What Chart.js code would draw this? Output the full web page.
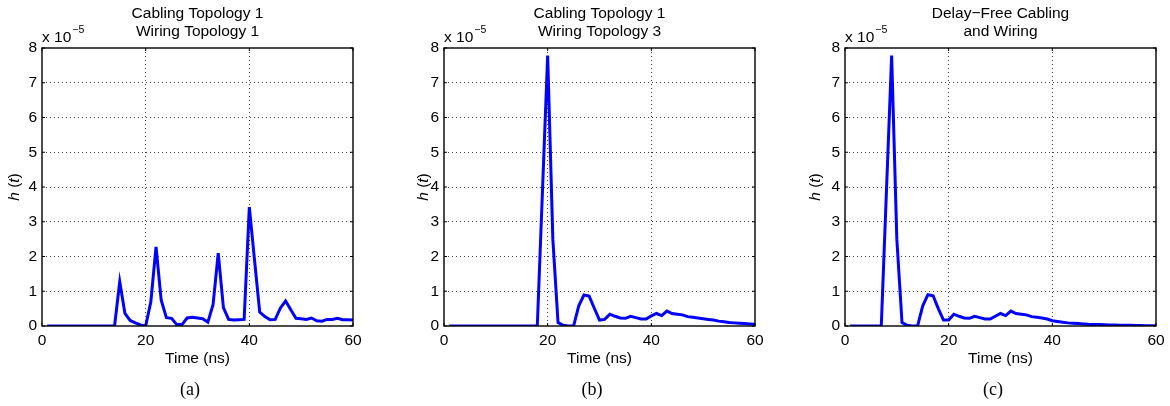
<!DOCTYPE html>
<html><head><meta charset="utf-8">
<script src="https://cdn.jsdelivr.net/npm/chart.js@4.4.1/dist/chart.umd.min.js"></script>
<style>
html,body{margin:0;padding:0;background:#fff;width:1170px;height:406px;overflow:hidden;position:relative}
.p{position:absolute;top:0;width:367px;height:406px}
</style></head><body>
<div class="p" style="left:0px"><canvas id="ca"></canvas></div>
<div class="p" style="left:402px"><canvas id="cb"></canvas></div>
<div class="p" style="left:803px"><canvas id="cc"></canvas></div>
<script>
// ---- data (h(t) in units of 1e-5) ----
const timeNs = [1,2,3,4,5,6,7,8,9,10,11,12,13,14,15,16,17,18,19,20,21,22,23,24,25,26,27,28,29,30,
  31,32,33,34,35,36,37,38,39,40,41,42,43,44,45,46,47,48,49,50,51,52,53,54,55,56,57,58,59,60];
const hA = [0,0,0,0,0,0,0,0,0,0,
  0,0,0,0,1.27,0.36,0.16,0.09,0.03,0,
  0.7,2.28,0.74,0.24,0.22,0.04,0.04,0.23,0.25,0.23,
  0.21,0.11,0.61,2.1,0.53,0.19,0.17,0.18,0.19,3.42,
  1.9,0.4,0.27,0.18,0.19,0.52,0.72,0.47,0.22,0.21,
  0.19,0.23,0.15,0.14,0.19,0.19,0.22,0.18,0.18,0.17];
const hB = [0,0,0,0,0,0,0,0,0,0,
  0,0,0,0,0,0,0,0,3.9,7.78,
  2.5,0.1,0.02,0,0,0.58,0.89,0.86,0.51,0.17,
  0.19,0.34,0.28,0.23,0.22,0.28,0.24,0.2,0.2,0.29,
  0.36,0.3,0.43,0.36,0.34,0.32,0.27,0.25,0.23,0.21,
  0.19,0.17,0.14,0.12,0.1,0.09,0.08,0.07,0.06,0.05];
const hC = [0,0,0,0,0,0,0,3.9,7.78,2.5,
  0.1,0.02,0,0,0.58,0.9,0.87,0.5,0.17,0.17,
  0.34,0.28,0.23,0.22,0.28,0.24,0.2,0.2,0.28,0.36,
  0.3,0.43,0.36,0.34,0.32,0.27,0.25,0.23,0.2,0.15,
  0.13,0.11,0.09,0.08,0.07,0.06,0.05,0.045,0.04,0.035,
  0.03,0.03,0.025,0.02,0.02,0.015,0.015,0.01,0.01,0.01];
const xTicks = [0,20,40,60];
const yTicks = [0,1,2,3,4,5,6,7,8];
const titleA = ['Cabling Topology 1','Wiring Topology 1'];
const titleB = ['Cabling Topology 1','Wiring Topology 3'];
const titleC = ['Delay\u2212Free Cabling','and Wiring'];
const captions = ['(a)','(b)','(c)'];
const xTitle = 'Time (ns)';

const SANS = '"Liberation Sans", Arial, Helvetica, sans-serif';
const SERIF = '"Liberation Serif", "Times New Roman", serif';

const decor = {
  id:'decor',
  afterDraw(chart, args, o){
    const {ctx, chartArea:a, scales} = chart;
    ctx.save();
    // inward ticks
    ctx.strokeStyle='#000'; ctx.lineWidth=1;
    xTicks.forEach(v=>{ const x=scales.x.getPixelForValue(v);
      ctx.beginPath(); ctx.moveTo(x,a.bottom); ctx.lineTo(x,a.bottom-3); ctx.moveTo(x,a.top); ctx.lineTo(x,a.top+3); ctx.stroke();});
    yTicks.forEach(v=>{ const y=scales.y.getPixelForValue(v);
      ctx.beginPath(); ctx.moveTo(a.left,y); ctx.lineTo(a.left+3,y); ctx.moveTo(a.right,y); ctx.lineTo(a.right-3,y); ctx.stroke();});
    // box
    ctx.lineWidth=1.4;
    ctx.strokeRect(a.left, a.top, a.right-a.left, a.bottom-a.top);
    // titles
    const cx=(a.left+a.right)/2;
    ctx.fillStyle='#000';
    ctx.font='15.5px '+SANS; ctx.textAlign='center'; ctx.textBaseline='alphabetic';
    ctx.fillText(o.title[0], cx, 17.5);
    ctx.fillText(o.title[1], cx, 36);
    // exponent
    ctx.textAlign='left';
    ctx.fillText('x 10', a.left, 41.5);
    const w=ctx.measureText('x 10').width;
    ctx.font='10.5px '+SANS;
    ctx.fillText('\u22125', a.left+w+1, 32.5);
    // x title
    ctx.font='15.5px '+SANS; ctx.textAlign='center';
    ctx.fillText(xTitle, cx, 363);
    // caption
    ctx.font='18px '+SERIF;
    ctx.fillText(o.caption, 190, 395);
    // y label
    ctx.translate(o.ylx, (a.top+a.bottom)/2);
    ctx.rotate(-Math.PI/2);
    const parts=[['h','italic '],[' (',''],['t','italic '],[')','']];
    let tot=0;
    parts.forEach(p=>{ctx.font=p[1]+'15.5px '+SANS; tot+=ctx.measureText(p[0]).width;});
    let xx=-tot/2; ctx.textAlign='left'; ctx.textBaseline='middle';
    parts.forEach(p=>{ctx.font=p[1]+'15.5px '+SANS; ctx.fillText(p[0], xx, 0); xx+=ctx.measureText(p[0]).width;});
    ctx.restore();
  }
};

function makeChart(id, vals, title, caption, ylx){
  return new Chart(document.getElementById(id), {
    type:'line',
    data:{datasets:[{data: timeNs.map((t,i)=>({x:t,y:vals[i]})), borderColor:'#0000ff', borderWidth:3,
      pointRadius:0, tension:0, fill:false, borderJoinStyle:'miter'}]},
    options:{
      responsive:true, maintainAspectRatio:false, animation:false,
      layout:{padding:{top:48,right:14,bottom:0,left:0}},
      plugins:{legend:{display:false}, title:{display:false}, tooltip:{enabled:false},
        decor:{title, caption, ylx}},
      scales:{
        x:{type:'linear', min:0, max:60,
          afterBuildTicks: s=>{ s.ticks = xTicks.map(v=>({value:v})); },
          afterFit: s=>{ s.height=80; },
          grid:{drawTicks:false, color: c=> (c.tick && (c.tick.value===0||c.tick.value===60)) ? 'rgba(0,0,0,0)' : 'rgba(0,0,0,0.75)', lineWidth:1},
          border:{display:false, dash:[1,3]},
          ticks:{padding:5, color:'#000', font:{family:SANS, size:15.5}, maxRotation:0}
        },
        y:{type:'linear', min:0, max:8,
          afterBuildTicks: s=>{ s.ticks = yTicks.map(v=>({value:v})); },
          afterFit: s=>{ s.width=42; },
          grid:{drawTicks:false, color: c=> (c.tick && (c.tick.value===0||c.tick.value===8)) ? 'rgba(0,0,0,0)' : 'rgba(0,0,0,0.75)', lineWidth:1},
          border:{display:false, dash:[1,3]},
          ticks:{padding:5, color:'#000', font:{family:SANS, size:15.5}}
        }
      }
    },
    plugins:[decor]
  });
}
makeChart('ca', hA, titleA, captions[0], 14.5);
makeChart('cb', hB, titleB, captions[1], 21.8);
makeChart('cc', hC, titleC, captions[2], 12.3);
</script>
</body></html>
